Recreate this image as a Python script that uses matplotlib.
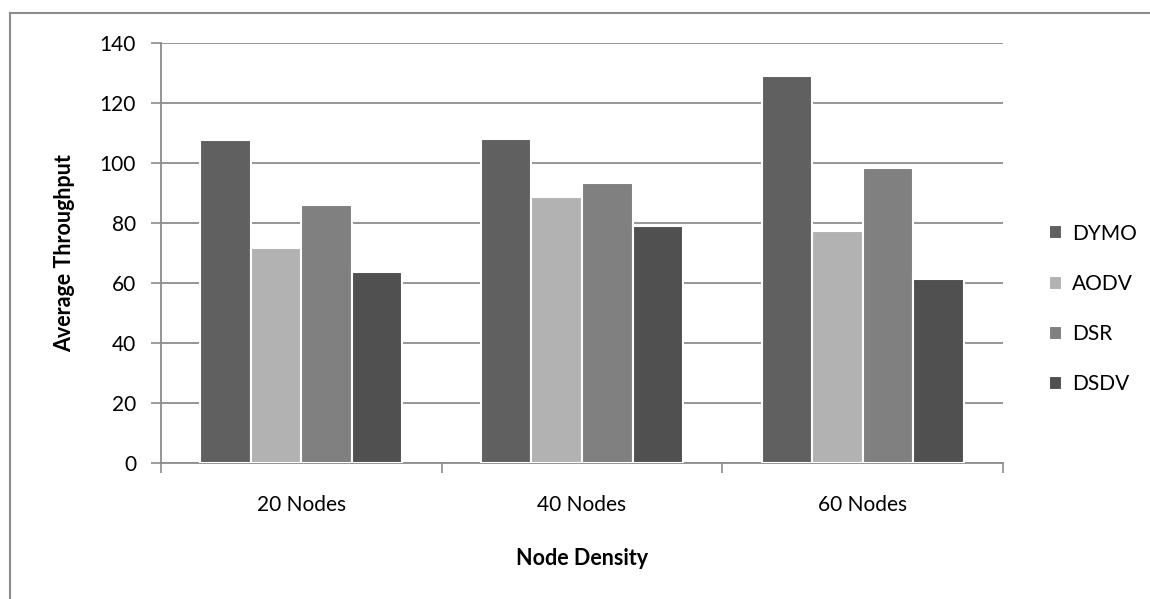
import numpy as np
import matplotlib.pyplot as plt
from matplotlib.lines import Line2D

# --- données ---
categories = ["20 Nodes", "40 Nodes", "60 Nodes"]
protocols = ["DYMO", "AODV", "DSR", "DSDV"]
dymo = [107.6, 107.9, 128.8]
aodv = [71.5, 88.5, 77.2]
dsr = [86.0, 93.2, 98.1]
dsdv = [63.7, 78.8, 61.1]
yticks = [0, 20, 40, 60, 80, 100, 120, 140]

series = [dymo, aodv, dsr, dsdv]
colors = ["#606060", "#b2b2b2", "#808080", "#505050"]

plt.rcParams['font.family'] = ['Lato', 'DejaVu Sans']

fig = plt.figure(figsize=(11.5, 5.99), dpi=100)
ax = fig.add_axes([161 / 1150, 1 - 462.7 / 599, (1003 - 161) / 1150, 420 / 599])

x = np.arange(len(categories))
w = 0.18
for i, (vals, col) in enumerate(zip(series, colors)):
    ax.bar(x + (i - 1.5) * w, vals, w, color=col, edgecolor="white",
           linewidth=1.5, label=protocols[i], zorder=3)

ax.set_xlim(-0.5, len(categories) - 0.5)
ax.set_ylim(0, 140)
ax.set_yticks(yticks)
ax.set_xticks(x)
ax.set_xticklabels(categories)
ax.set_xticks(np.arange(len(categories) + 1) - 0.5, minor=True)
ax.tick_params(axis="x", which="major", length=0, pad=23, labelsize=15)
ax.tick_params(axis="x", which="minor", length=7, width=1.2, color="#8c8c8c", direction="out")
ax.tick_params(axis="y", length=7, width=1.2, color="#8c8c8c", pad=11, labelsize=15)

ax.grid(axis="y", color="#8c8c8c", linewidth=1.3, zorder=0)
for s in ["top", "right"]:
    ax.spines[s].set_visible(False)
for s in ["left", "bottom"]:
    ax.spines[s].set_color("#8c8c8c")
    ax.spines[s].set_linewidth(1.3)

ax.set_xlabel("Node Density", fontsize=15.5, fontweight="bold", labelpad=24)
ax.set_ylabel("Average Throughput", fontsize=15.5, fontweight="bold", labelpad=18)

ax.legend(loc="center left", bbox_to_anchor=(1030 / 1150, 1 - 309 / 599),
          bbox_transform=fig.transFigure, frameon=False, fontsize=15,
          handlelength=0.65, handleheight=0.65, handletextpad=0.45, labelspacing=1.45)

# cadre du graphique
fig.add_artist(Line2D([9.5 / 1150, 1], [1 - 13 / 599, 1 - 13 / 599], color="#8c8c8c", lw=1.5))
fig.add_artist(Line2D([9.5 / 1150, 9.5 / 1150], [0, 1 - 13 / 599], color="#8c8c8c", lw=1.5))

fig.savefig("out.png", dpi=100)
